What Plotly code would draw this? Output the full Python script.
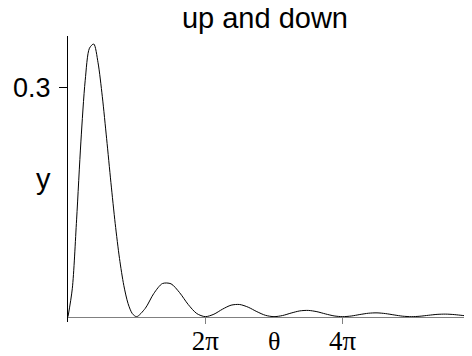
import numpy as np
import plotly.graph_objects as go

# theta sample positions, in units of pi
theta_over_pi = [0, 0.0625, 0.125, 0.1875, 0.25, 0.3125, 0.375, 0.4375, 0.5, 0.5625,
                 0.625, 0.6875, 0.75, 0.8125, 0.875, 0.9375, 1.0,
                 1.125, 1.25, 1.375, 1.5, 1.625, 1.75, 1.875, 2.0,
                 2.125, 2.25, 2.375, 2.5, 2.625, 2.75, 2.875, 3.0,
                 3.125, 3.25, 3.375, 3.5, 3.625, 3.75, 3.875, 4.0,
                 4.125, 4.25, 4.375, 4.5, 4.625, 4.75, 4.875, 5.0,
                 5.125, 5.25, 5.375, 5.5, 5.625, 5.75, 5.875, 6.0]
y_values = [0.0, 0.0366, 0.1269, 0.2291, 0.3093, 0.3520, 0.3575, 0.3330, 0.2884, 0.2333,
            0.1758, 0.1220, 0.0763, 0.0411, 0.0171, 0.0039, 0.0,
            0.01086, 0.03045, 0.04342, 0.04309, 0.03154, 0.01601, 0.00410, 0.0,
            0.00321, 0.00981, 0.01506, 0.01595, 0.01237, 0.00661, 0.00177, 0.0,
            0.00150, 0.00475, 0.00753, 0.00820, 0.00653, 0.00358, 0.00098, 0.0,
            0.00087, 0.00279, 0.00449, 0.00498, 0.00402, 0.00224, 0.00062, 0.0,
            0.00056, 0.00183, 0.00298, 0.00334, 0.00273, 0.00153, 0.00043, 0.0]

x_tick_vals_over_pi = [2, 4]
x_tick_text = ["2\u03c0", "4\u03c0"]
y_tick_vals = [0.3]
y_tick_text = ["0.3"]
title_text = "up and down"
x_label = "\u03b8"
y_label = "y"

x = [v * np.pi for v in theta_over_pi]

y_min, y_max = -0.007, 0.368

fig = go.Figure()
fig.add_trace(go.Scatter(x=x, y=y_values, mode="lines",
                         line=dict(color="black", width=1, shape="spline", smoothing=0.8),
                         hoverinfo="skip", showlegend=False))

sans = "Liberation Sans, Arial, sans-serif"
serif = "Liberation Serif, Times New Roman, serif"

fig.update_layout(
    width=472, height=356,
    margin=dict(l=60, r=0, t=28, b=42, pad=0, autoexpand=False),
    paper_bgcolor="white", plot_bgcolor="white",
    title=dict(text=title_text, font=dict(family=sans, size=29, color="black"),
               xref="paper", x=0.478, xanchor="center",
               yref="container", y=1.0, yanchor="top", automargin=False),
    xaxis=dict(range=[0, 6 * np.pi], showgrid=False, zeroline=False,
               showline=True, linecolor="#808080", linewidth=1,
               ticks="outside", ticklen=6, tickcolor="#808080", tickwidth=1,
               tickvals=[v * np.pi for v in x_tick_vals_over_pi], ticktext=x_tick_text,
               tickfont=dict(family=serif, size=27, color="black"),
               ticklabelstandoff=-6, automargin=False,
               anchor="free", position=(0 - y_min) / (y_max - y_min)),
    yaxis=dict(range=[y_min, y_max], showgrid=False, zeroline=False,
               showline=True, linecolor="black", linewidth=1,
               ticks="outside", ticklen=8, tickcolor="black", tickwidth=1,
               tickvals=y_tick_vals, ticktext=y_tick_text, automargin=False,
               ticklabelstandoff=3,
               tickfont=dict(family=sans, size=27, color="black")),
    annotations=[
        dict(text=x_label, x=3 * np.pi, xref="x", y=0, yref="y", xanchor="center",
             yanchor="top", yshift=-8, showarrow=False,
             font=dict(family=serif, size=26, color="black")),
        dict(text=y_label, x=0, xref="paper", y=0.5, yref="paper", xanchor="right",
             yanchor="middle", xshift=-15, showarrow=False,
             font=dict(family=sans, size=29, color="black")),
    ],
)

fig.write_html("out.html")
